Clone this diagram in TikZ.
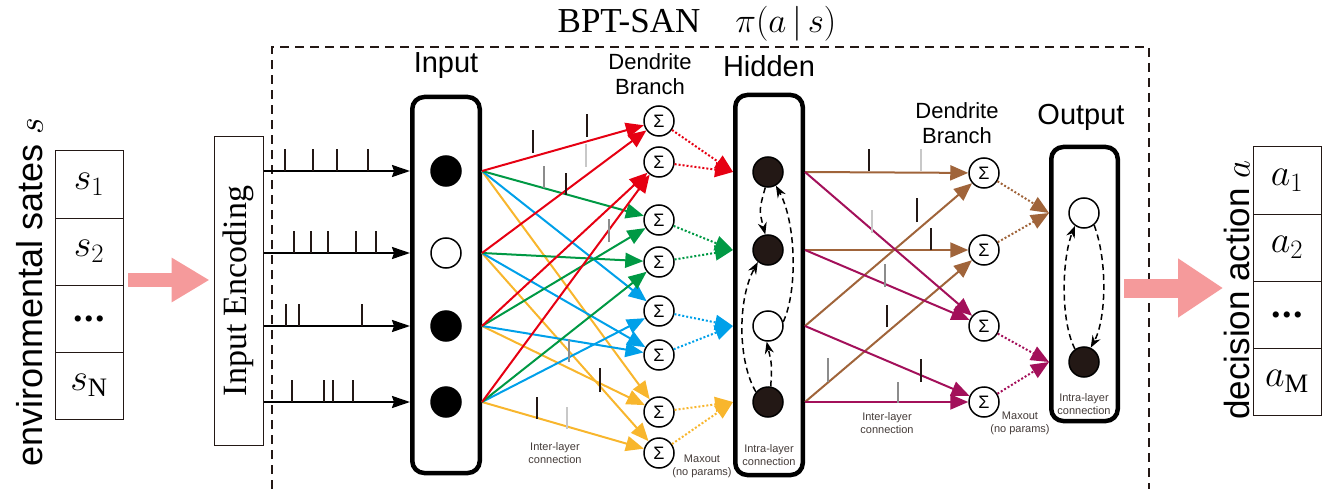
\RequirePackage{fix-cm}
\documentclass[tikz,border=0pt]{standalone}
\usepackage{fontspec}
\setmainfont{Liberation Serif}
\setsansfont{Liberation Sans}
\usepackage{graphicx}
\usetikzlibrary{positioning}
\usetikzlibrary{arrows.meta}

\definecolor{cred}{HTML}{E60012}
\definecolor{cgreen}{HTML}{009944}
\definecolor{cblue}{HTML}{00A0E9}
\definecolor{cyellow}{HTML}{F8B62D}
\definecolor{cbrown}{HTML}{A0643A}
\definecolor{cmag}{HTML}{A3105A}
\definecolor{cpink}{HTML}{F59A9B}
\definecolor{cdark}{HTML}{231815}
\definecolor{cgray}{HTML}{8C8C8C}
\definecolor{clight}{HTML}{C8C8C8}

\begin{document}
\begin{tikzpicture}[x=1pt,y=-1pt,
    cell/.style={draw=cdark,line width=1pt,minimum width=68pt,minimum height=67pt,node distance=0pt,outer sep=0pt,font=\fontsize{38}{40}\selectfont},
    layer/.style={draw,line width=4.5pt,rounded corners=12pt,minimum width=67.5pt},
    neuron/.style={circle,draw,line width=1.5pt,minimum size=30pt,inner sep=0pt,fill=white},
    fired/.style={neuron,fill=cdark},
    sum/.style={circle,draw,line width=1.5pt,minimum size=30pt,inner sep=0pt,font=\sffamily\fontsize{18}{18}\selectfont},
    syn/.style={line width=2pt,-{Triangle[length=18pt,width=15pt]}},
    maxo/.style={line width=2pt,dash pattern=on 2pt off 2pt,-{Triangle[length=18pt,width=15pt]}},
    intra/.style={line width=1.5pt,dash pattern=on 6pt off 4pt,-{Stealth[length=12pt,width=9pt]}},
    train/.style={line width=2pt,-{Stealth[length=18pt,width=12pt,inset=2pt]}},
    spike/.style={line width=2pt,cdark},
    fat/.style={cpink,line width=14pt,-{Triangle[length=38pt,width=42pt]}},
    head/.style={font=\sffamily\fontsize{29}{31}\selectfont},
    branch/.style={align=center,font=\sffamily\fontsize{22}{25}\selectfont},
    note/.style={align=center,text=cdark!85,font=\sffamily\fontsize{11}{13}\selectfont}]
    \useasboundingbox (0,0) rectangle (1335,489);
    %
    \draw[cdark,line width=1.5pt,dash pattern=on 9pt off 6pt] (272,489) -- (272,47) -- (1149,47) -- (1149,489);
    \node[inner sep=0pt,font=\fontsize{35}{37}\selectfont](ttl) at (697,24) {BPT-SAN\quad$\pi(a\,|\,s)$};
    %
    \node[rotate=90,font=\sffamily\fontsize{36}{38}\selectfont](env) at (30,292) {environmental sates $s$};
    \node[cell](s1) at (89,184.5){$s_1$};
    \node[cell,below=of s1](s2){$s_2$};
    \node[cell,below=of s2](s3){\bfseries .\hspace{1.5pt}.\hspace{1.5pt}.};
    \node[cell,below=of s3](s4){$s_\mathrm{N}$};
    %
    \node[draw=cdark,line width=1pt,minimum width=49pt,minimum height=308pt,inner sep=0pt,font=\fontsize{34}{36}\selectfont](enc) at (238.5,291) {\rotatebox{90}{Input Encoding}};
    \coordinate (pa) at (128,280);
    \draw[fat,shorten >=4pt] (pa) -- (pa -| enc.west);
    %
    \node[layer,minimum height=376pt](inp) at (446,285) {};
    \node[head] at (446,66) {Input};
    \node[fired,fill=black](i1) at (446,171) {};
    \node[neuron](i2) at (446,253) {};
    \node[fired,fill=black](i3) at (446,326) {};
    \node[fired,fill=black](i4) at (446,402) {};
    %
    \draw[train] (i1 -| enc.east) -- (i1 -| inp.west);
    \draw[train] (i2 -| enc.east) -- (i2 -| inp.west);
    \draw[train] (i3 -| enc.east) -- (i3 -| inp.west);
    \draw[train] (i4 -| enc.east) -- (i4 -| inp.west);
    \draw[spike] (285,171) -- ++(0,-22) (313,171) -- ++(0,-22) (337,171) -- ++(0,-22) (368,171) -- ++(0,-22);
    \draw[spike] (294,253) -- ++(0,-22) (311,253) -- ++(0,-22) (328,253) -- ++(0,-22) (356,253) -- ++(0,-22) (376,253) -- ++(0,-22);
    \draw[spike] (286,326) -- ++(0,-22) (299,326) -- ++(0,-22) (362,326) -- ++(0,-22);
    \draw[spike] (292,402) -- ++(0,-22) (324,402) -- ++(0,-22) (333,402) -- ++(0,-22) (353,402) -- ++(0,-22);
    %
    \node[branch] at (650,74) {Dendrite\\Branch};
    \node[sum](d1) at (659,121) {Σ};
    \node[sum](d2) at (659,162) {Σ};
    \node[sum](d3) at (659,220) {Σ};
    \node[sum](d4) at (659,262) {Σ};
    \node[sum](d5) at (659,311) {Σ};
    \node[sum](d6) at (659,355) {Σ};
    \node[sum](d7) at (659,412) {Σ};
    \node[sum](d8) at (659,453) {Σ};
    %
    \node[layer,minimum height=380pt](hid) at (769,285) {};
    \node[head] at (769,66) {Hidden};
    \node[fired](h1) at (768,172) {};
    \node[fired](h2) at (768,250) {};
    \node[neuron](h3) at (768,326) {};
    \node[fired](h4) at (768,402) {};
    %
    \draw[syn,cyellow] (i1 -| inp.east) -- (d7);
    \draw[syn,cyellow] (i2 -| inp.east) -- (d8);
    \draw[syn,cyellow] (i3 -| inp.east) -- (d7);
    \draw[syn,cyellow] (i4 -| inp.east) -- (d8);
    \draw[syn,cblue] (i1 -| inp.east) -- (d5);
    \draw[syn,cblue] (i2 -| inp.east) -- (d6);
    \draw[syn,cblue] (i3 -| inp.east) -- (d6);
    \draw[syn,cblue] (i4 -| inp.east) -- (d5);
    \draw[syn,cgreen] (i1 -| inp.east) -- (d3);
    \draw[syn,cgreen] (i2 -| inp.east) -- (d4);
    \draw[syn,cgreen] (i3 -| inp.east) -- (d3);
    \draw[syn,cgreen] (i4 -| inp.east) -- (d4);
    \draw[syn,cred] (i1 -| inp.east) -- (d1);
    \draw[syn,cred] (i2 -| inp.east) -- (d1);
    \draw[syn,cred] (i3 -| inp.east) -- (d2);
    \draw[syn,cred] (i4 -| inp.east) -- (d2);
    \draw[spike] (533,153) -- ++(0,-23) (587,137) -- ++(0,-23) (566,195) -- ++(0,-22) (600,392) -- ++(0,-24) (537,419) -- ++(0,-22);
    \draw[spike,cgray] (544,188) -- ++(0,-22) (609,242) -- ++(0,-23) (569,362) -- ++(0,-23);
    \draw[spike,clight] (586,167) -- ++(0,-23) (567,429) -- ++(0,-22);
    \node[note] at (555,453) {Inter-layer\\connection};
    %
    \draw[maxo,cred] (d1) -- (h1 -| hid.west);
    \draw[maxo,cred] (d2) -- (h1 -| hid.west);
    \draw[maxo,cgreen] (d3) -- (h2 -| hid.west);
    \draw[maxo,cgreen] (d4) -- (h2 -| hid.west);
    \draw[maxo,cblue] (d5) -- (h3 -| hid.west);
    \draw[maxo,cblue] (d6) -- (h3 -| hid.west);
    \draw[maxo,cyellow] (d7) -- (h4 -| hid.west);
    \draw[maxo,cyellow] (d8) -- (h4 -| hid.west);
    \node[note] at (702,466) {Maxout\\(no params)};
    %
    \draw[intra] (h1.-100) .. controls (759,210) .. (h2.100);
    \draw[intra] (h4.140) .. controls (738,362) and (737,300) .. (h2.230);
    \draw[intra] (h3.15) .. controls (798,290) and (796,222) .. (h1.-60);
    \draw[intra] (h4.80) .. controls (772,365) .. (h3.-95);
    \node[note] at (769,455) {Intra-layer\\connection};
    %
    \node[branch] at (957,123) {Dendrite\\Branch};
    \node[sum](e1) at (984,173) {Σ};
    \node[sum](e2) at (984,250) {Σ};
    \node[sum](e3) at (984,326) {Σ};
    \node[sum](e4) at (984,402) {Σ};
    %
    \draw[syn,cbrown] (h1 -| hid.east) -- (e1);
    \draw[syn,cbrown] (h2 -| hid.east) -- (e2);
    \draw[syn,cbrown] (h3 -| hid.east) -- (e1);
    \draw[syn,cbrown] (h4 -| hid.east) -- (e2);
    \draw[syn,cmag] (h1 -| hid.east) -- (e3);
    \draw[syn,cmag] (h2 -| hid.east) -- (e3);
    \draw[syn,cmag] (h3 -| hid.east) -- (e4);
    \draw[syn,cmag] (h4 -| hid.east) -- (e4);
    \draw[spike] (869,171) -- ++(0,-22) (917,222) -- ++(0,-24) (931,250) -- ++(0,-22) (887,327) -- ++(0,-22) (921,382) -- ++(0,-23);
    \draw[spike,cgray] (885,287) -- ++(0,-23) (828,382) -- ++(0,-24) (898,403) -- ++(0,-21);
    \draw[spike,clight] (921,171) -- ++(0,-22) (872,233) -- ++(0,-23);
    \node[note] at (887,423) {Inter-layer\\connection};
    %
    \node[layer,minimum width=66.5pt,minimum height=274pt](out) at (1084.5,284) {};
    \node[head] at (1081,117) {Output};
    \node[neuron](o1) at (1084,213) {};
    \node[fired](o2) at (1084,362) {};
    \draw[maxo,cbrown] (e1) -- (o1 -| out.west);
    \draw[maxo,cbrown] (e2) -- (o1 -| out.west);
    \draw[maxo,cmag] (e3) -- (o2 -| out.west);
    \draw[maxo,cmag] (e4) -- (o2 -| out.west);
    \node[note] at (1020,423) {Maxout\\(no params)};
    \draw[intra] (o1.-50) .. controls (1108,262) and (1106,320) .. (o2.65);
    \draw[intra] (o2.125) .. controls (1060,320) and (1062,258) .. (o1.235);
    \node[note] at (1084,404) {Intra-layer\\connection};
    %
    \coordinate (pb) at (1124,288);
    \coordinate (pc) at (1223,288);
    \draw[fat,line width=19pt,-{Triangle[length=45pt,width=56pt]}] (pb) -- (pc);
    \node[rotate=90,font=\sffamily\fontsize{35}{37}\selectfont](act) at (1237,290) {decision action $a$};
    \node[cell](a1) at (1287,180.5){$a_1$};
    \node[cell,below=of a1](a2){$a_2$};
    \node[cell,below=of a2](a3){\bfseries .\hspace{1.5pt}.\hspace{1.5pt}.};
    \node[cell,below=of a3](a4){$a_\mathrm{M}$};
    %
\end{tikzpicture}
\end{document}
